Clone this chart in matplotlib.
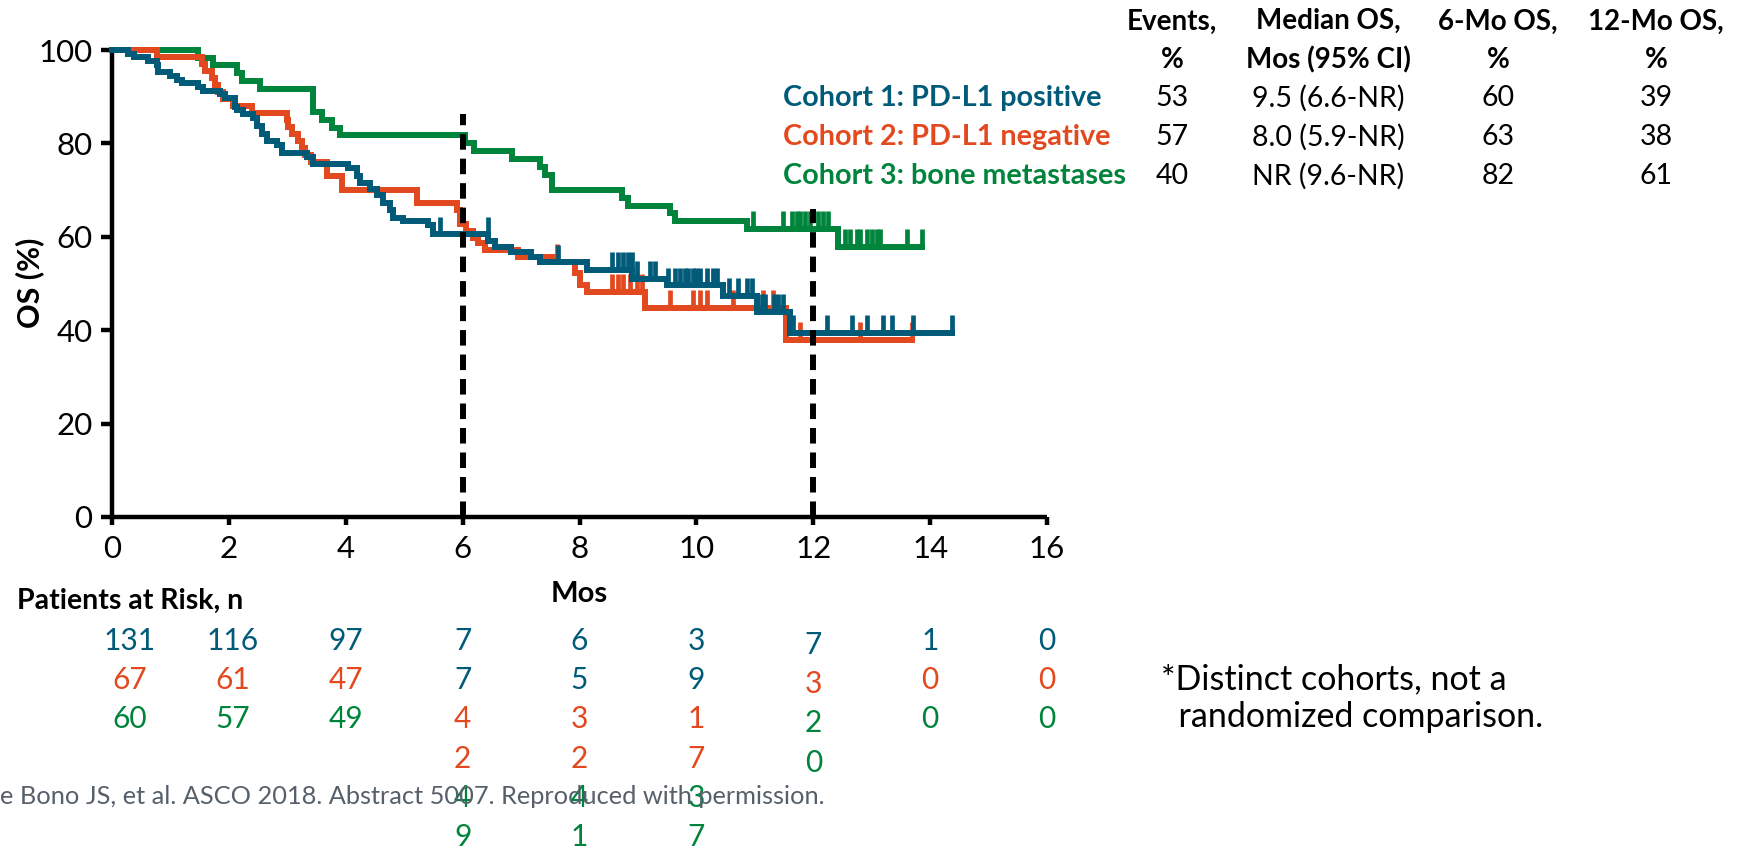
import matplotlib
matplotlib.use("Agg")
import matplotlib.pyplot as plt
import matplotlib.transforms as mtransforms

plt.rcParams['font.family'] = ['Lato', 'DejaVu Sans']

# ---------------- data ----------------
BLUE = "#005a78"
ORANGE = "#e2491f"
GREEN = "#00843c"

# Cohort 1: PD-L1 positive -- event times (months) and survival (%) after each event
c1_times = [0.27, 0.38, 0.62, 0.77, 0.79, 0.99, 1.11, 1.20, 1.47, 1.56, 1.85, 1.93,
            2.10, 2.14, 2.24, 2.41, 2.48, 2.57, 2.65, 2.82, 2.91, 3.34, 3.44, 4.04,
            4.19, 4.24, 4.41, 4.53, 4.63, 4.75, 4.81, 4.98, 5.41, 5.49, 6.44, 6.56,
            6.82, 7.17, 7.32, 8.13, 8.90, 9.50, 10.46, 11.04, 11.60]
c1_surv = [99.2, 98.4, 97.6, 96.8, 95.2, 94.4, 93.6, 92.9, 92.1, 91.3, 90.5, 89.7,
           87.9, 87.1, 86.3, 85.5, 83.8, 82.1, 80.5, 79.6, 78.0, 77.1, 75.5, 74.7,
           73.1, 71.5, 70.2, 68.9, 67.2, 65.7, 64.1, 63.3, 62.5, 60.5, 59.0, 57.9,
           56.8, 55.7, 54.5, 52.9, 51.0, 49.6, 47.3, 43.9, 39.4]
c1_censor = [5.62, 6.43, 7.63, 8.55, 8.66, 8.75, 8.83, 8.89, 8.98, 9.21, 9.29, 9.52,
             9.63, 9.72, 9.80, 9.86, 9.95, 10.00, 10.06, 10.18, 10.29, 10.35, 10.55,
             10.72, 10.86, 10.95, 11.12, 11.17, 11.32, 11.40, 11.49, 11.65, 12.23,
             12.66, 12.92, 13.19, 13.35, 13.71, 14.37]

# Cohort 2: PD-L1 negative
c2_times = [0.77, 1.54, 1.59, 1.71, 1.76, 1.81, 1.90, 2.07, 2.40, 2.99, 3.01, 3.08,
            3.18, 3.25, 3.30, 3.40, 3.68, 3.94, 5.22, 5.90, 5.95, 6.05, 6.17, 6.26,
            6.38, 6.95, 7.55, 7.92, 8.00, 8.13, 9.12, 11.53]
c2_surv = [98.5, 97.0, 95.5, 94.0, 92.5, 91.0, 89.6, 88.1, 86.6, 85.1, 83.6, 82.1,
           80.6, 79.1, 77.6, 76.1, 73.1, 70.1, 67.2, 65.7, 62.7, 61.2, 59.7, 58.7,
           57.2, 55.7, 54.6, 52.2, 49.7, 48.2, 44.8, 37.9]
c2_censor = [7.62, 8.56, 8.66, 8.75, 8.87, 8.99, 9.07, 9.55, 9.94, 10.06, 10.18,
             10.63, 11.14, 11.31, 11.77, 12.80, 13.69]

# Cohort 3: bone metastases
c3_times = [1.47, 1.73, 2.14, 2.22, 2.53, 3.44, 3.60, 3.77, 3.90, 6.04, 6.20, 6.85,
            7.32, 7.41, 7.53, 8.72, 8.83, 9.55, 9.63, 10.86, 12.42]
c3_surv = [98.3, 96.7, 95.0, 93.3, 91.7, 86.7, 85.0, 83.3, 81.7, 80.0, 78.3, 76.7,
           75.0, 73.3, 70.0, 68.3, 66.7, 65.0, 63.3, 61.7, 57.9]
c3_censor = [10.97, 11.48, 11.63, 11.72, 11.77, 11.86, 11.94, 12.08, 12.17, 12.25,
             12.54, 12.63, 12.75, 12.80, 12.92, 13.00, 13.09, 13.14, 13.60, 13.86]

cohort_labels = ["Cohort 1: PD-L1 positive", "Cohort 2: PD-L1 negative",
                 "Cohort 3: bone metastases"]
cohort_colors = [BLUE, ORANGE, GREEN]

table_headers = ["Events,\n%", "Median OS,\nMos (95% CI)", "6-Mo OS,\n%", "12-Mo OS,\n%"]
table_rows = [["53", "9.5 (6.6-NR)", "60", "39"],
              ["57", "8.0 (5.9-NR)", "63", "38"],
              ["40", "NR (9.6-NR)", "82", "61"]]

risk_months = [0, 2, 4, 6, 8, 10, 12, 14, 16]
risk_c1 = ["131", "116", "97", "77", "65", "39", "7", "1", "0"]
risk_c2 = ["67", "61", "47", "42", "32", "17", "3", "0", "0"]
risk_c3 = ["60", "57", "49", "49", "41", "37", "20", "0", "0"]

landmarks = [6, 12]
landmark_tops = [86.3, 66.0]

xticks = list(range(0, 17, 2))
yticks = list(range(0, 101, 20))


def survival_at(times, surv, t):
    s = 100.0
    for ti, si in zip(times, surv):
        if ti <= t:
            s = si
    return s


# ---------------- figure ----------------
W, H = 1742, 849
fig = plt.figure(figsize=(W / 100, H / 100), dpi=100)
ax = fig.add_axes([112 / W, 1 - 517 / H, (1047 - 112) / W, (517 - 50) / H])


def fx(px):
    return px / W


def fy(py):
    return 1 - py / H


curves = [(c1_times, c1_surv, c1_censor), (c2_times, c2_surv, c2_censor),
          (c3_times, c3_surv, c3_censor)]
LW = 4.3
# draw green first, then orange, blue on top
for idx in [2, 1, 0]:
    times, surv, cens = curves[idx]
    col = cohort_colors[idx]
    end = max(cens[-1], times[-1])
    xs = [0] + times + [end]
    ys = [100] + surv + [surv[-1]]
    ax.step(xs, ys, where="post", color=col, lw=LW, clip_on=False,
            solid_joinstyle="miter", zorder=3 + (2 - idx))
    cy = [survival_at(times, surv, c) for c in cens]
    ax.vlines(cens, cy, [v + 3.8 for v in cy], color=col, lw=3.4,
              zorder=3 + (2 - idx))

for xm, top in zip(landmarks, landmark_tops):
    ax.plot([xm, xm], [0, top], color="black", lw=4.3,
            linestyle=(0, (2.6, 1.5)), zorder=6, clip_on=False)

ax.set_xlim(0, 16)
ax.set_ylim(0, 100)
ax.set_xticks(xticks)
ax.set_yticks(yticks)
for s in ["top", "right"]:
    ax.spines[s].set_visible(False)
for s in ["left", "bottom"]:
    ax.spines[s].set_linewidth(3.2)
    ax.spines[s].set_capstyle("butt")
ax.tick_params(axis="both", direction="out", width=3.2, labelsize=22.5,
               colors="black")
ax.tick_params(axis="y", length=8, pad=6)
ax.tick_params(axis="x", length=6, pad=7)

# axis titles
fig.text(fx(30), fy(283), "OS (%)", rotation=90, ha="center", va="center",
         fontsize=22, fontweight="bold")
fig.text(fx(579), fy(594), "Mos", ha="center", va="center", fontsize=21,
         fontweight="bold")
fig.text(fx(17), fy(601), "Patients at Risk, n", ha="left", va="center",
         fontsize=20.5, fontweight="bold")

# cohort labels
label_y = [98, 137, 176]
for lab, col, y in zip(cohort_labels, cohort_colors, label_y):
    fig.text(fx(783), fy(y), lab, ha="left", va="center", fontsize=20.7,
             fontweight="bold", color=col)

# summary table
col_x = [1172, 1328, 1498, 1656]
for x, head in zip(col_x, table_headers):
    fig.text(fx(x), fy(41), head, ha="center", va="center", fontsize=20,
             fontweight="bold", linespacing=1.55)
for r, row in enumerate(table_rows):
    for x, val in zip(col_x, row):
        fig.text(fx(x), fy(label_y[r]), val, ha="center", va="center",
                 fontsize=20.5)

# patients at risk
risk_x = [0.3, 2.07, 4, 6, 8, 10, 12, 14, 16]
row_y = [641, 680, 719, 759, 798, 837]
stacked_cols = {3, 4, 5, 6}
blend = mtransforms.blended_transform_factory(ax.transData, fig.transFigure)
for ci, xm in enumerate(risk_x):
    row = 0
    shift = 4 if ci == 6 else 0
    for vals, col in zip([risk_c1, risk_c2, risk_c3], cohort_colors):
        txt = vals[ci]
        pieces = list(txt) if ci in stacked_cols else [txt]
        for p in pieces:
            ax.text(xm, fy(row_y[row] + shift), p, transform=blend, ha="center",
                    va="center", fontsize=21.5, color=col, clip_on=False, zorder=5)
            row += 1

# footnotes
fig.text(fx(0), fy(797), "e Bono JS, et al. ASCO 2018. Abstract 5007. Reproduced with permission.",
         ha="left", va="center", fontsize=18.3, color="#56606b", zorder=1)
fig.text(fx(1161), fy(698), "*Distinct cohorts, not a\n  randomized comparison.",
         ha="left", va="center", fontsize=24.5, linespacing=1.22)

fig.savefig("out.png", dpi=100)
